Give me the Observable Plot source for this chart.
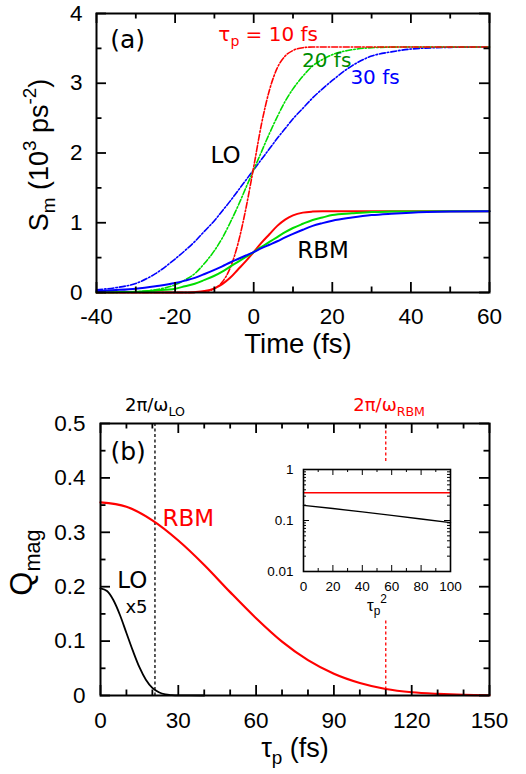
<!DOCTYPE html>
<html><head><meta charset="utf-8">
<script src="https://cdn.jsdelivr.net/npm/d3@7"></script>
<script src="https://cdn.jsdelivr.net/npm/@observablehq/plot@0.6"></script>
<style>
html,body{margin:0;padding:0;background:#fff;}
#fig{position:relative;width:526px;height:774px;overflow:hidden;background:#fff;}
#fig svg{position:absolute;overflow:visible;}
</style></head><body><div id="fig"></div>
<script>
// ---------- Panel (a) data: S_m vs time ----------
const time    = [-40,-35,-30,-25,-20,-17.5,-15,-12.5,-10,-8,-6,-4,-2,0,2,4,6,8,10,12.5,15,17.5,20,25,30,35,40,50,60];
const loRed   = [0,0,0,0,0,0,0.002,0.012,0.055,0.15,0.35,0.70,1.20,1.80,2.42,2.90,3.22,3.39,3.47,3.51,3.52,3.52,3.52,3.52,3.52,3.52,3.52,3.52,3.52];
const loGreen = [0,0.002,0.01,0.04,0.11,0.18,0.27,0.42,0.60,0.78,1.0,1.24,1.50,1.76,2.02,2.28,2.52,2.74,2.92,3.10,3.25,3.34,3.41,3.48,3.51,3.518,3.52,3.52,3.52];
const loBlue  = [0.04,0.07,0.13,0.27,0.48,0.60,0.73,0.88,1.03,1.17,1.31,1.46,1.61,1.76,1.91,2.06,2.21,2.35,2.49,2.64,2.79,2.92,3.04,3.25,3.39,3.45,3.49,3.515,3.52];
const rbmRed  = [0,0,0,0,0,0,0.005,0.02,0.06,0.12,0.21,0.33,0.45,0.58,0.715,0.835,0.955,1.045,1.105,1.145,1.16,1.165,1.165,1.165,1.165,1.165,1.165,1.165,1.165];
const rbmGreen= [0.002,0.005,0.01,0.03,0.055,0.09,0.125,0.18,0.24,0.30,0.37,0.44,0.51,0.58,0.655,0.725,0.795,0.865,0.925,0.985,1.04,1.075,1.11,1.135,1.155,1.16,1.163,1.165,1.165];
const rbmBlue = [0.02,0.035,0.055,0.09,0.135,0.17,0.21,0.265,0.325,0.375,0.43,0.48,0.53,0.58,0.635,0.685,0.735,0.79,0.84,0.90,0.955,0.995,1.03,1.075,1.11,1.13,1.145,1.16,1.165];
const xMajorA = [-40,-20,0,20,40,60];
const xMinorA = [-30,-10,10,30,50];
const yMajorA = [0,1,2,3,4];
const yMinorA = [0.5,1.5,2.5,3.5];

// ---------- Panel (b) data: Q_mag vs tau_p ----------
const tauLO   = [0,2.5,5,7.5,10,12.5,15,17.5,20,22.5,25,27.5,30,40];
const qLOx5   = [0.197,0.192,0.175,0.148,0.115,0.082,0.052,0.029,0.014,0.006,0.002,0.0007,0.0002,0];
const tauRBM  = [0,10,20,30,40,50,60,70,80,90,100,110,120,130,140,150];
const qRBM    = [0.355,0.347,0.322,0.285,0.240,0.190,0.142,0.099,0.065,0.040,0.023,0.012,0.006,0.003,0.0012,0.0005];
const periodLO  = 21;
const periodRBM = 110;
const redGuideSpans = [[0.43,0.5],[0,0.138]];
const xMajorB = [0,30,60,90,120,150];
const xMinorB = [10,20,40,50,70,80,100,110,130,140];
const yMajorB = [0,0.1,0.2,0.3,0.4,0.5];
const yMinorB = [0.05,0.15,0.25,0.35,0.45];

// ---------- Inset data ----------
const tauSq     = [0,20,40,60,80,100];
const insetRBM  = [0.35,0.35,0.35,0.35,0.35,0.35];
const insetLO   = [0.198,0.172,0.147,0.126,0.107,0.091];
const xMajorI = [0,20,40,60,80,100];
const xMinorI = [10,30,50,70,90];
const yMajorI = [0.01,0.1,1];
const yMinorI = [0.02,0.03,0.04,0.05,0.06,0.07,0.08,0.09,0.2,0.3,0.4,0.5,0.6,0.7,0.8,0.9];

const rows = (xs, ys) => xs.map((x, i) => ({x, y: ys[i]}));
const SANS = "Liberation Sans";
const DEJA = "DejaVu Sans";
const RED = "#ff0000", GREEN = "#00dd00", BLUE = "#0000ff", DKGREEN = "#008c00";

function frameTicks(xMaj, xMin, yMaj, yMin, innerW, innerH, majLen, minLen, sw) {
  const o = {stroke: "black", strokeWidth: sw};
  return [
    Plot.tickX(xMaj, {x: d => d, insetTop: innerH - majLen, ...o}),
    Plot.tickX(xMaj, {x: d => d, insetBottom: innerH - majLen, ...o}),
    Plot.tickX(xMin, {x: d => d, insetTop: innerH - minLen, ...o}),
    Plot.tickX(xMin, {x: d => d, insetBottom: innerH - minLen, ...o}),
    Plot.tickY(yMaj, {y: d => d, insetRight: innerW - majLen, ...o}),
    Plot.tickY(yMaj, {y: d => d, insetLeft: innerW - majLen, ...o}),
    Plot.tickY(yMin, {y: d => d, insetRight: innerW - minLen, ...o}),
    Plot.tickY(yMin, {y: d => d, insetLeft: innerW - minLen, ...o})
  ];
}

// turn "_{..}" / "^{..}" markup in text into real sub/superscript tspans
function richify(svg) {
  const NS = "http://www.w3.org/2000/svg";
  svg.querySelectorAll("text").forEach(el => {
    const s = el.textContent;
    if (!/[_^]\{/.test(s)) return;
    const fs = parseFloat(getComputedStyle(el).fontSize) || 16;
    while (el.firstChild) el.removeChild(el.firstChild);
    const re = /([_^])\{([^}]*)\}/g; let last = 0, m; const parts = [];
    while ((m = re.exec(s))) {
      if (m.index > last) parts.push(["", s.slice(last, m.index)]);
      parts.push([m[1], m[2]]); last = re.lastIndex;
    }
    if (last < s.length) parts.push(["", s.slice(last)]);
    let cur = 0;
    for (const [k, t] of parts) {
      const off = k === "_" ? 0.28 * fs : k === "^" ? -0.42 * fs : 0;
      const ts = document.createElementNS(NS, "tspan");
      ts.setAttribute("dy", (off - cur).toFixed(2));
      if (k) ts.setAttribute("font-size", (0.7 * fs).toFixed(2));
      ts.textContent = t;
      el.appendChild(ts);
      cur = off;
    }
  });
}

const fig = document.getElementById("fig");
const dashDot = "6,2,1.5,2";

// ---------- Panel (a) ----------
const WA = 526, HA = 370, mlA = 96, mrA = 37, mtA = 13, mbA = 78;
const plotA = Plot.plot({
  width: WA, height: HA, marginLeft: mlA, marginRight: mrA, marginTop: mtA, marginBottom: mbA,
  x: {domain: [-40, 60], axis: null},
  y: {domain: [0, 4], axis: null},
  style: {background: "transparent", overflow: "visible", fontFamily: SANS},
  marks: [
    Plot.line(rows(time, loBlue), {x: "x", y: "y", stroke: BLUE, strokeWidth: 1.6, strokeDasharray: dashDot, curve: "monotone-x"}),
    Plot.line(rows(time, loGreen), {x: "x", y: "y", stroke: GREEN, strokeWidth: 1.6, strokeDasharray: dashDot, curve: "monotone-x"}),
    Plot.line(rows(time, loRed), {x: "x", y: "y", stroke: RED, strokeWidth: 1.6, strokeDasharray: dashDot, curve: "monotone-x"}),
    Plot.line(rows(time, rbmRed), {x: "x", y: "y", stroke: RED, strokeWidth: 2, curve: "monotone-x"}),
    Plot.line(rows(time, rbmGreen), {x: "x", y: "y", stroke: GREEN, strokeWidth: 2, curve: "monotone-x"}),
    Plot.line(rows(time, rbmBlue), {x: "x", y: "y", stroke: BLUE, strokeWidth: 2, curve: "monotone-x"}),
    ...frameTicks(xMajorA, xMinorA, yMajorA, yMinorA, WA - mlA - mrA, HA - mtA - mbA, 10, 5.5, 1.8),
    Plot.frame({stroke: "black", strokeWidth: 2}),
    Plot.text(xMajorA, {x: d => d, text: d => String(d), frameAnchor: "bottom", lineAnchor: "bottom", dy: 31, fontSize: 22.5}),
    Plot.text(yMajorA, {y: d => d, text: d => String(d), frameAnchor: "left", textAnchor: "end", dx: -14, fontSize: 22.5}),
    Plot.text(["Time (fs)"], {frameAnchor: "bottom", textAnchor: "middle", lineAnchor: "bottom", dy: 60, dx: 5, fontSize: 27.5}),
    Plot.text(["S_{m} (10^{3} ps^{-2})"], {x: -40, y: 2, textAnchor: "middle", rotate: -90, lineAnchor: "bottom", dx: -49, dy: 2, fontSize: 27}),
    Plot.text(["(a)"], {x: -36.5, y: 3.51, textAnchor: "start", lineAnchor: "bottom", fontSize: 25, fontFamily: DEJA}),
    Plot.text(["τ_{p} = 10 fs"], {x: -9.0, y: 3.61, textAnchor: "start", lineAnchor: "bottom", fontSize: 20, fontFamily: DEJA, fill: RED}),
    Plot.text(["20 fs"], {x: 12.3, y: 3.23, textAnchor: "start", lineAnchor: "bottom", fontSize: 20, fontFamily: DEJA, fill: DKGREEN}),
    Plot.text(["30 fs"], {x: 24.6, y: 2.99, textAnchor: "start", lineAnchor: "bottom", fontSize: 20, fontFamily: DEJA, fill: BLUE}),
    Plot.text(["LO"], {x: -11.0, y: 1.86, textAnchor: "start", lineAnchor: "bottom", fontSize: 23, fontFamily: DEJA}),
    Plot.text(["RBM"], {x: 11.1, y: 0.50, textAnchor: "start", lineAnchor: "bottom", fontSize: 23, fontFamily: DEJA})
  ]
});
plotA.style.left = "0px"; plotA.style.top = "0px";
fig.appendChild(plotA);

// ---------- Panel (b) ----------
const WB = 526, HB = 404, mlB = 100, mrB = 37, mtB = 53, mbB = 79;
const plotB = Plot.plot({
  width: WB, height: HB, marginLeft: mlB, marginRight: mrB, marginTop: mtB, marginBottom: mbB,
  x: {domain: [0, 150], axis: null},
  y: {domain: [0, 0.5], axis: null},
  style: {background: "transparent", overflow: "visible", fontFamily: SANS},
  marks: [
    Plot.ruleX([periodLO], {x: d => d, stroke: "black", strokeWidth: 1.3, strokeDasharray: "3,2.5"}),
    Plot.ruleX(redGuideSpans, {x: () => periodRBM, y1: d => d[0], y2: d => d[1], stroke: RED, strokeWidth: 1.3, strokeDasharray: "3,2.5"}),
    Plot.line(rows(tauLO, qLOx5), {x: "x", y: "y", stroke: "black", strokeWidth: 1.8, curve: "monotone-x"}),
    Plot.line(rows(tauRBM, qRBM), {x: "x", y: "y", stroke: RED, strokeWidth: 2.2, curve: "monotone-x"}),
    ...frameTicks(xMajorB, xMinorB, yMajorB, yMinorB, WB - mlB - mrB, HB - mtB - mbB, 10, 5.5, 1.8),
    Plot.frame({stroke: "black", strokeWidth: 2}),
    Plot.text(xMajorB, {x: d => d, text: d => String(d), frameAnchor: "bottom", lineAnchor: "bottom", dy: 32, fontSize: 22.5}),
    Plot.text(yMajorB, {y: d => d, text: d => String(d), frameAnchor: "left", textAnchor: "end", dx: -15, fontSize: 22.5}),
    Plot.text(["τ_{p} (fs)"], {frameAnchor: "bottom", textAnchor: "middle", lineAnchor: "bottom", dy: 61, fontSize: 27}),
    Plot.text(["Q_{mag}"], {x: 0, y: 0.25, textAnchor: "middle", rotate: -90, lineAnchor: "bottom", dx: -69, dy: 3, fontSize: 31}),
    Plot.text(["(b)"], {x: 3.85, y: 0.4325, textAnchor: "start", lineAnchor: "bottom", fontSize: 25, fontFamily: DEJA}),
    Plot.text(["RBM"], {x: 23.9, y: 0.311, textAnchor: "start", lineAnchor: "bottom", fontSize: 23, fontFamily: DEJA, fill: RED}),
    Plot.text(["LO"], {x: 6.5, y: 0.1976, textAnchor: "start", lineAnchor: "bottom", fontSize: 23, fontFamily: DEJA}),
    Plot.text(["x5"], {x: 9.6, y: 0.152, textAnchor: "start", lineAnchor: "bottom", fontSize: 18, fontFamily: DEJA}),
    Plot.text(["2π/ω_{LO}"], {x: periodLO, y: 0.5226, textAnchor: "middle", lineAnchor: "bottom", fontSize: 18, fontFamily: DEJA}),
    Plot.text(["2π/ω_{RBM}"], {x: periodRBM + 1.3, y: 0.5226, textAnchor: "middle", lineAnchor: "bottom", fontSize: 18, fontFamily: DEJA, fill: RED})
  ]
});
plotB.style.left = "0px"; plotB.style.top = "370px";
fig.appendChild(plotB);

// ---------- Inset ----------
const WI = 207, HI = 162, mlI = 40, mrI = 20, mtI = 10, mbI = 50;
const plotI = Plot.plot({
  width: WI, height: HI, marginLeft: mlI, marginRight: mrI, marginTop: mtI, marginBottom: mbI,
  x: {domain: [0, 100], axis: null},
  y: {type: "log", domain: [0.01, 1], axis: null},
  style: {background: "transparent", overflow: "visible", fontFamily: SANS},
  marks: [
    Plot.line(rows(tauSq, insetRBM), {x: "x", y: "y", stroke: RED, strokeWidth: 1.3}),
    Plot.line(rows(tauSq, insetLO), {x: "x", y: "y", stroke: "black", strokeWidth: 1.3}),
    ...frameTicks(xMajorI, xMinorI, yMajorI, yMinorI, WI - mlI - mrI, HI - mtI - mbI, 6, 3, 1),
    Plot.frame({stroke: "black", strokeWidth: 1.6}),
    Plot.text(xMajorI, {x: d => d, text: d => String(d), frameAnchor: "bottom", lineAnchor: "bottom", dy: 19, fontSize: 13.5}),
    Plot.text(yMajorI, {y: d => d, text: d => String(d), frameAnchor: "left", textAnchor: "end", dx: -10, fontSize: 13.5}),
    Plot.text(["τ_{p}^{2}"], {frameAnchor: "bottom", textAnchor: "middle", lineAnchor: "bottom", dy: 39, fontSize: 17})
  ]
});
plotI.style.left = "263px"; plotI.style.top = "459px";
fig.appendChild(plotI);

[plotA, plotB, plotI].forEach(richify);
</script></body></html>
